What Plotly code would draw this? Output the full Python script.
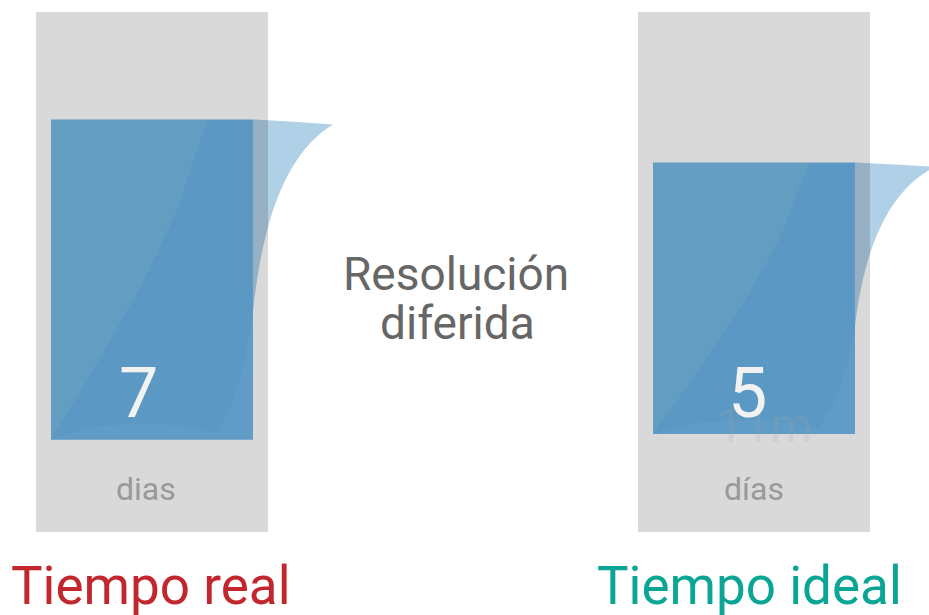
import plotly.graph_objects as go

# ---- data ----
categories = ["Tiempo real", "Tiempo ideal"]
values = [7, 5]
units = ["dias", "días"]
category_colors = ["#c1272d", "#0ba596"]
center_label = ["Resolución", "diferida"]
ghost_label = "11m"

# ---- layout constants ----
W_FIG, H_FIG = 929, 615
X_POS = [0, 1]
BAR_W = 0.3355
TRACK_W = 0.3854
BAR_BASE = [-7.9, -7.63]
TRACK_TOP = 12
TRACK_BASE = -12.19
X_RANGE = [-0.2525, 1.2907]
Y_RANGE = [-16.047, 12.558]
BAR_COLOR = "#5b99c4"
TRACK_COLOR = "#d9d9d9"
FONT = "Roboto"

fig = go.Figure()
fig.add_trace(go.Bar(
    x=X_POS, y=[TRACK_TOP - TRACK_BASE] * len(X_POS), base=TRACK_BASE,
    width=TRACK_W, marker=dict(color=TRACK_COLOR, line=dict(width=0)),
    hoverinfo="skip", showlegend=False))
fig.add_trace(go.Bar(
    x=X_POS, y=[v - b for v, b in zip(values, BAR_BASE)], base=BAR_BASE,
    width=BAR_W, marker=dict(color=BAR_COLOR, line=dict(width=0)),
    customdata=values, hovertemplate="%{customdata}<extra></extra>",
    showlegend=False))


def to_data(i, u, v):
    x0 = X_POS[i] - BAR_W / 2
    return x0 + u * BAR_W, BAR_BASE[i] + v * (values[i] - BAR_BASE[i])


def path_from(pts):
    return "M " + " L ".join(f"{x:.5f},{y:.5f}" for x, y in pts) + " Z"


def clip_x_le(poly, g):
    out = []
    n = len(poly)
    for k in range(n):
        cx, cy = poly[k]
        px_, py_ = poly[k - 1]
        cin, pin = cx <= g, px_ <= g
        if cin:
            if not pin:
                t = (g - px_) / (cx - px_)
                out.append((g, py_ + t * (cy - py_)))
            out.append((cx, cy))
        elif pin:
            t = (g - px_) / (cx - px_)
            out.append((g, py_ + t * (cy - py_)))
    return out


def quad(p0, c, p2, n=24):
    pts = []
    for k in range(n + 1):
        t = k / n
        a, b, d = (1 - t) ** 2, 2 * t * (1 - t), t * t
        pts.append((a * p0[0] + b * c[0] + d * p2[0], a * p0[1] + b * c[1] + d * p2[1]))
    return pts


light_uv = [(0, 0), (0.228, 0.239), (0.441, 0.475), (0.624, 0.714), (0.70, 0.86), (0.775, 1.0), (0, 1.0)]
bottom_uv = [(0, 0), (0.2, 0.04), (0.44, 0.052), (0.65, 0.045), (0.82, 0.022), (0.82, 0)]
right_uv = [(1.0, 0.40), (0.96, 0.25), (0.90, 0.12), (0.82, 0.022), (0.82, 0), (1.0, 0)]
TIP = (1.396, 0.984)
curl_uv = [(1.0, 1.0), (1.2, 0.993)] + quad(TIP, (1.074, 0.863), (1.0, 0.40))

shapes = []
for i in range(len(values)):
    shapes.append(dict(type="path", path=path_from([to_data(i, u, v) for u, v in light_uv]),
                       fillcolor="rgba(166,186,188,0.13)", line=dict(width=0)))
    shapes.append(dict(type="path", path=path_from([to_data(i, u, v) for u, v in bottom_uv]),
                       fillcolor="rgba(166,196,214,0.08)", line=dict(width=0)))
    shapes.append(dict(type="path", path=path_from([to_data(i, u, v) for u, v in right_uv]),
                       fillcolor="rgba(166,196,214,0.07)", line=dict(width=0)))
    curl = [to_data(i, u, v) for u, v in curl_uv]
    shapes.append(dict(type="path", path=path_from(curl),
                       fillcolor="#b0d0e8", line=dict(width=0)))
    g = X_POS[i] + TRACK_W / 2
    strip = clip_x_le(curl, g)
    shapes.append(dict(type="path", path=path_from(strip),
                       fillcolor="#98b0c4", line=dict(width=0)))


def px(x):
    return x / W_FIG


def py(y):
    return 1 - y / H_FIG


ann = []
ann.append(dict(text=center_label[0], x=px(456), y=py(273.5), font=dict(size=46, color="#666666")))
ann.append(dict(text=center_label[1], x=px(457), y=py(322.7), font=dict(size=46, color="#666666")))
ann.append(dict(text=ghost_label, x=px(764), y=py(425), font=dict(size=48, color="rgba(165,165,165,0.2)")))
value_x = [138.5, 747]
unit_x = [145.5, 754]
cat_x = [151, 749.5]
for i in range(len(values)):
    ann.append(dict(text=str(values[i]), x=px(value_x[i]), y=py(392.5),
                    font=dict(size=70, color="#f2f2f2")))
    ann.append(dict(text=units[i], x=px(unit_x[i]), y=py(489),
                    font=dict(size=32, color="#999999")))
    ann.append(dict(text=categories[i], x=px(cat_x[i]), y=py(586),
                    font=dict(size=53, color=category_colors[i])))
for a in ann:
    a.update(xref="paper", yref="paper", xanchor="center", yanchor="middle", showarrow=False)
    a["font"]["family"] = FONT

fig.update_layout(
    width=W_FIG, height=H_FIG,
    margin=dict(l=0, r=0, t=0, b=0),
    paper_bgcolor="white", plot_bgcolor="white",
    barmode="overlay",
    xaxis=dict(range=X_RANGE, visible=False, fixedrange=True),
    yaxis=dict(range=Y_RANGE, visible=False, fixedrange=True),
    shapes=shapes, annotations=ann,
    font=dict(family=FONT),
)
fig.write_html(
    "out.html",
    config={"displayModeBar": False},
    post_script="document.body.style.margin='0';document.body.style.overflow='hidden';",
)
